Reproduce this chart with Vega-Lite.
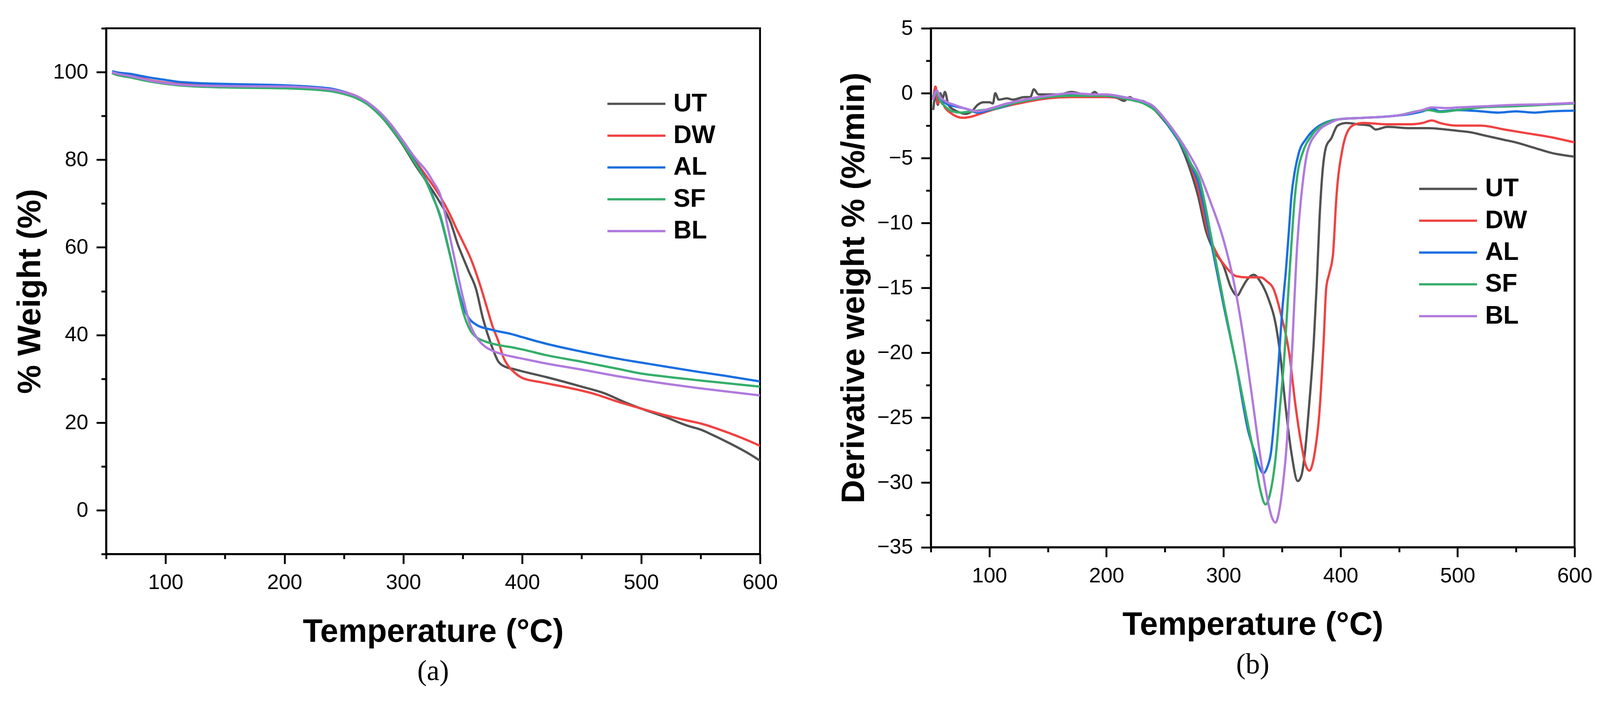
{
  "$schema": "https://vega.github.io/schema/vega-lite/v6.json",
  "background": "white",
  "padding": {"left": 32.7, "top": 42.4, "right": 0, "bottom": 0},
  "spacing": 149.3,
  "resolve": {"scale": {"color": "independent"}, "legend": {"color": "independent"}},
  "config": {
    "font": "Liberation Sans",
    "view": {"stroke": "black", "strokeWidth": 4.8},
    "axis": {
      "grid": false,
      "domainColor": "black",
      "domainWidth": 4.8,
      "tickColor": "black",
      "tickWidth": 4.8,
      "labelFont": "Liberation Sans",
      "labelFontSize": 54,
      "labelColor": "black",
      "labelPadding": 21.2,
      "labelFlush": false,
      "labelOverlap": false,
      "titleFont": "Liberation Sans",
      "titleFontSize": 83,
      "titleFontWeight": "bold",
      "titleColor": "black"
    },
    "legend": {
      "orient": "none",
      "symbolType": "stroke",
      "symbolSize": 22022,
      "symbolStrokeWidth": 5.8,
      "clipHeight": 64.5,
      "labelFont": "Liberation Sans",
      "labelFontSize": 64.5,
      "labelFontWeight": "bold",
      "labelColor": "black",
      "labelOffset": 17.3,
      "rowPadding": 15.4,
      "padding": 0
    },
    "title": {
      "orient": "bottom",
      "font": "Liberation Serif",
      "fontSize": 73,
      "fontWeight": "normal",
      "color": "black",
      "anchor": "middle",
      "offset": 24
    }
  },
  "datasets": {
    "tga": [
      {"sample": "UT", "temperature": 55, "weight": 99.8}, {"sample": "UT", "temperature": 60, "weight": 99.3}, {"sample": "UT", "temperature": 70, "weight": 99.0}, {"sample": "UT", "temperature": 80, "weight": 98.3}, {"sample": "UT", "temperature": 90, "weight": 97.8}, {"sample": "UT", "temperature": 100, "weight": 97.5}, {"sample": "UT", "temperature": 120, "weight": 97.1}, {"sample": "UT", "temperature": 150, "weight": 96.9}, {"sample": "UT", "temperature": 200, "weight": 96.7}, {"sample": "UT", "temperature": 230, "weight": 96.3}, {"sample": "UT", "temperature": 240, "weight": 96.0}, {"sample": "UT", "temperature": 250, "weight": 95.3}, {"sample": "UT", "temperature": 260, "weight": 94.4}, {"sample": "UT", "temperature": 270, "weight": 92.8}, {"sample": "UT", "temperature": 280, "weight": 90.3}, {"sample": "UT", "temperature": 290, "weight": 87.0}, {"sample": "UT", "temperature": 300, "weight": 83.2}, {"sample": "UT", "temperature": 310, "weight": 78.8}, {"sample": "UT", "temperature": 320, "weight": 74.8}, {"sample": "UT", "temperature": 330, "weight": 70.6}, {"sample": "UT", "temperature": 340, "weight": 65.5}, {"sample": "UT", "temperature": 346, "weight": 60.5}, {"sample": "UT", "temperature": 350, "weight": 57.8}, {"sample": "UT", "temperature": 355, "weight": 54.5}, {"sample": "UT", "temperature": 361, "weight": 50.6}, {"sample": "UT", "temperature": 367, "weight": 43.7}, {"sample": "UT", "temperature": 374, "weight": 37.7}, {"sample": "UT", "temperature": 380, "weight": 33.9}, {"sample": "UT", "temperature": 386, "weight": 32.7}, {"sample": "UT", "temperature": 393, "weight": 32.2}, {"sample": "UT", "temperature": 400, "weight": 31.7}, {"sample": "UT", "temperature": 420, "weight": 30.4}, {"sample": "UT", "temperature": 450, "weight": 28.2}, {"sample": "UT", "temperature": 470, "weight": 26.6}, {"sample": "UT", "temperature": 485, "weight": 24.8}, {"sample": "UT", "temperature": 500, "weight": 23.2}, {"sample": "UT", "temperature": 520, "weight": 21.3}, {"sample": "UT", "temperature": 540, "weight": 19.2}, {"sample": "UT", "temperature": 550, "weight": 18.4}, {"sample": "UT", "temperature": 560, "weight": 17.2}, {"sample": "UT", "temperature": 575, "weight": 15.2}, {"sample": "UT", "temperature": 590, "weight": 13.0}, {"sample": "UT", "temperature": 600, "weight": 11.3},
      {"sample": "DW", "temperature": 55, "weight": 100.0}, {"sample": "DW", "temperature": 60, "weight": 99.7}, {"sample": "DW", "temperature": 70, "weight": 99.1}, {"sample": "DW", "temperature": 80, "weight": 98.6}, {"sample": "DW", "temperature": 90, "weight": 98.0}, {"sample": "DW", "temperature": 100, "weight": 97.6}, {"sample": "DW", "temperature": 120, "weight": 97.1}, {"sample": "DW", "temperature": 150, "weight": 96.9}, {"sample": "DW", "temperature": 200, "weight": 96.8}, {"sample": "DW", "temperature": 230, "weight": 96.4}, {"sample": "DW", "temperature": 240, "weight": 96.1}, {"sample": "DW", "temperature": 250, "weight": 95.5}, {"sample": "DW", "temperature": 260, "weight": 94.6}, {"sample": "DW", "temperature": 270, "weight": 93.0}, {"sample": "DW", "temperature": 280, "weight": 90.6}, {"sample": "DW", "temperature": 290, "weight": 87.4}, {"sample": "DW", "temperature": 300, "weight": 83.8}, {"sample": "DW", "temperature": 310, "weight": 79.8}, {"sample": "DW", "temperature": 320, "weight": 76.0}, {"sample": "DW", "temperature": 331, "weight": 71.6}, {"sample": "DW", "temperature": 339, "weight": 67.6}, {"sample": "DW", "temperature": 346, "weight": 63.5}, {"sample": "DW", "temperature": 350, "weight": 61.3}, {"sample": "DW", "temperature": 357, "weight": 57.2}, {"sample": "DW", "temperature": 365, "weight": 51.0}, {"sample": "DW", "temperature": 370, "weight": 46.5}, {"sample": "DW", "temperature": 375, "weight": 42.0}, {"sample": "DW", "temperature": 380, "weight": 38.5}, {"sample": "DW", "temperature": 384, "weight": 35.0}, {"sample": "DW", "temperature": 388, "weight": 33.0}, {"sample": "DW", "temperature": 392, "weight": 31.8}, {"sample": "DW", "temperature": 400, "weight": 30.2}, {"sample": "DW", "temperature": 416, "weight": 29.2}, {"sample": "DW", "temperature": 440, "weight": 27.9}, {"sample": "DW", "temperature": 460, "weight": 26.6}, {"sample": "DW", "temperature": 480, "weight": 24.8}, {"sample": "DW", "temperature": 500, "weight": 23.2}, {"sample": "DW", "temperature": 520, "weight": 21.7}, {"sample": "DW", "temperature": 540, "weight": 20.4}, {"sample": "DW", "temperature": 550, "weight": 19.8}, {"sample": "DW", "temperature": 565, "weight": 18.5}, {"sample": "DW", "temperature": 580, "weight": 17.0}, {"sample": "DW", "temperature": 590, "weight": 15.9}, {"sample": "DW", "temperature": 600, "weight": 14.7},
      {"sample": "AL", "temperature": 55, "weight": 100.2}, {"sample": "AL", "temperature": 60, "weight": 99.9}, {"sample": "AL", "temperature": 70, "weight": 99.6}, {"sample": "AL", "temperature": 80, "weight": 99.1}, {"sample": "AL", "temperature": 90, "weight": 98.6}, {"sample": "AL", "temperature": 100, "weight": 98.2}, {"sample": "AL", "temperature": 110, "weight": 97.8}, {"sample": "AL", "temperature": 120, "weight": 97.6}, {"sample": "AL", "temperature": 150, "weight": 97.3}, {"sample": "AL", "temperature": 200, "weight": 97.0}, {"sample": "AL", "temperature": 230, "weight": 96.5}, {"sample": "AL", "temperature": 240, "weight": 96.2}, {"sample": "AL", "temperature": 250, "weight": 95.5}, {"sample": "AL", "temperature": 260, "weight": 94.5}, {"sample": "AL", "temperature": 270, "weight": 92.9}, {"sample": "AL", "temperature": 280, "weight": 90.5}, {"sample": "AL", "temperature": 290, "weight": 87.4}, {"sample": "AL", "temperature": 300, "weight": 83.6}, {"sample": "AL", "temperature": 310, "weight": 79.4}, {"sample": "AL", "temperature": 320, "weight": 74.8}, {"sample": "AL", "temperature": 325, "weight": 71.5}, {"sample": "AL", "temperature": 331, "weight": 67.0}, {"sample": "AL", "temperature": 339, "weight": 58.5}, {"sample": "AL", "temperature": 346, "weight": 50.5}, {"sample": "AL", "temperature": 350, "weight": 46.7}, {"sample": "AL", "temperature": 354, "weight": 44.3}, {"sample": "AL", "temperature": 361, "weight": 42.4}, {"sample": "AL", "temperature": 374, "weight": 41.2}, {"sample": "AL", "temperature": 391, "weight": 40.2}, {"sample": "AL", "temperature": 400, "weight": 39.5}, {"sample": "AL", "temperature": 420, "weight": 38.0}, {"sample": "AL", "temperature": 450, "weight": 36.2}, {"sample": "AL", "temperature": 480, "weight": 34.6}, {"sample": "AL", "temperature": 500, "weight": 33.7}, {"sample": "AL", "temperature": 520, "weight": 32.8}, {"sample": "AL", "temperature": 550, "weight": 31.5}, {"sample": "AL", "temperature": 570, "weight": 30.7}, {"sample": "AL", "temperature": 600, "weight": 29.4},
      {"sample": "SF", "temperature": 55, "weight": 99.8}, {"sample": "SF", "temperature": 60, "weight": 99.3}, {"sample": "SF", "temperature": 70, "weight": 98.8}, {"sample": "SF", "temperature": 80, "weight": 98.2}, {"sample": "SF", "temperature": 90, "weight": 97.7}, {"sample": "SF", "temperature": 100, "weight": 97.3}, {"sample": "SF", "temperature": 110, "weight": 97.0}, {"sample": "SF", "temperature": 120, "weight": 96.8}, {"sample": "SF", "temperature": 150, "weight": 96.5}, {"sample": "SF", "temperature": 200, "weight": 96.3}, {"sample": "SF", "temperature": 230, "weight": 95.9}, {"sample": "SF", "temperature": 240, "weight": 95.6}, {"sample": "SF", "temperature": 250, "weight": 95.0}, {"sample": "SF", "temperature": 260, "weight": 94.1}, {"sample": "SF", "temperature": 270, "weight": 92.6}, {"sample": "SF", "temperature": 280, "weight": 90.2}, {"sample": "SF", "temperature": 290, "weight": 87.1}, {"sample": "SF", "temperature": 300, "weight": 83.4}, {"sample": "SF", "temperature": 310, "weight": 79.2}, {"sample": "SF", "temperature": 320, "weight": 74.5}, {"sample": "SF", "temperature": 325, "weight": 71.3}, {"sample": "SF", "temperature": 331, "weight": 67.3}, {"sample": "SF", "temperature": 339, "weight": 58.6}, {"sample": "SF", "temperature": 346, "weight": 50.0}, {"sample": "SF", "temperature": 350, "weight": 45.5}, {"sample": "SF", "temperature": 356, "weight": 41.2}, {"sample": "SF", "temperature": 360, "weight": 39.8}, {"sample": "SF", "temperature": 368, "weight": 38.6}, {"sample": "SF", "temperature": 380, "weight": 37.7}, {"sample": "SF", "temperature": 391, "weight": 37.2}, {"sample": "SF", "temperature": 400, "weight": 36.7}, {"sample": "SF", "temperature": 420, "weight": 35.4}, {"sample": "SF", "temperature": 450, "weight": 33.9}, {"sample": "SF", "temperature": 480, "weight": 32.3}, {"sample": "SF", "temperature": 500, "weight": 31.2}, {"sample": "SF", "temperature": 520, "weight": 30.5}, {"sample": "SF", "temperature": 550, "weight": 29.6}, {"sample": "SF", "temperature": 575, "weight": 28.9}, {"sample": "SF", "temperature": 600, "weight": 28.2},
      {"sample": "BL", "temperature": 55, "weight": 100.0}, {"sample": "BL", "temperature": 60, "weight": 99.6}, {"sample": "BL", "temperature": 70, "weight": 99.1}, {"sample": "BL", "temperature": 80, "weight": 98.5}, {"sample": "BL", "temperature": 90, "weight": 97.9}, {"sample": "BL", "temperature": 100, "weight": 97.5}, {"sample": "BL", "temperature": 120, "weight": 97.0}, {"sample": "BL", "temperature": 150, "weight": 96.8}, {"sample": "BL", "temperature": 200, "weight": 96.7}, {"sample": "BL", "temperature": 230, "weight": 96.3}, {"sample": "BL", "temperature": 240, "weight": 96.0}, {"sample": "BL", "temperature": 250, "weight": 95.4}, {"sample": "BL", "temperature": 260, "weight": 94.6}, {"sample": "BL", "temperature": 270, "weight": 93.1}, {"sample": "BL", "temperature": 280, "weight": 90.9}, {"sample": "BL", "temperature": 290, "weight": 87.9}, {"sample": "BL", "temperature": 300, "weight": 84.2}, {"sample": "BL", "temperature": 310, "weight": 80.4}, {"sample": "BL", "temperature": 320, "weight": 77.2}, {"sample": "BL", "temperature": 325, "weight": 75.0}, {"sample": "BL", "temperature": 331, "weight": 72.0}, {"sample": "BL", "temperature": 339, "weight": 62.6}, {"sample": "BL", "temperature": 346, "weight": 53.6}, {"sample": "BL", "temperature": 350, "weight": 48.7}, {"sample": "BL", "temperature": 356, "weight": 42.5}, {"sample": "BL", "temperature": 361, "weight": 39.7}, {"sample": "BL", "temperature": 369, "weight": 37.3}, {"sample": "BL", "temperature": 375, "weight": 36.4}, {"sample": "BL", "temperature": 382, "weight": 35.7}, {"sample": "BL", "temperature": 391, "weight": 35.1}, {"sample": "BL", "temperature": 400, "weight": 34.6}, {"sample": "BL", "temperature": 420, "weight": 33.5}, {"sample": "BL", "temperature": 450, "weight": 32.1}, {"sample": "BL", "temperature": 480, "weight": 30.6}, {"sample": "BL", "temperature": 500, "weight": 29.7}, {"sample": "BL", "temperature": 520, "weight": 28.9}, {"sample": "BL", "temperature": 550, "weight": 27.8}, {"sample": "BL", "temperature": 575, "weight": 27.0}, {"sample": "BL", "temperature": 600, "weight": 26.2}
    ],
    "dtg": [
      {"sample": "UT", "temperature": 52, "rate": -1.3}, {"sample": "UT", "temperature": 54, "rate": -0.2}, {"sample": "UT", "temperature": 56, "rate": -0.9}, {"sample": "UT", "temperature": 58, "rate": 0.0}, {"sample": "UT", "temperature": 60, "rate": -0.4}, {"sample": "UT", "temperature": 62, "rate": 0.1}, {"sample": "UT", "temperature": 65, "rate": -0.9}, {"sample": "UT", "temperature": 70, "rate": -1.3}, {"sample": "UT", "temperature": 75, "rate": -1.5}, {"sample": "UT", "temperature": 80, "rate": -1.6}, {"sample": "UT", "temperature": 85, "rate": -1.4}, {"sample": "UT", "temperature": 90, "rate": -0.9}, {"sample": "UT", "temperature": 95, "rate": -0.7}, {"sample": "UT", "temperature": 100, "rate": -0.7}, {"sample": "UT", "temperature": 103, "rate": -0.8}, {"sample": "UT", "temperature": 105, "rate": 0.0}, {"sample": "UT", "temperature": 108, "rate": -0.5}, {"sample": "UT", "temperature": 115, "rate": -0.4}, {"sample": "UT", "temperature": 120, "rate": -0.5}, {"sample": "UT", "temperature": 130, "rate": -0.3}, {"sample": "UT", "temperature": 135, "rate": -0.3}, {"sample": "UT", "temperature": 138, "rate": 0.3}, {"sample": "UT", "temperature": 142, "rate": -0.1}, {"sample": "UT", "temperature": 150, "rate": -0.1}, {"sample": "UT", "temperature": 160, "rate": -0.1}, {"sample": "UT", "temperature": 170, "rate": 0.1}, {"sample": "UT", "temperature": 180, "rate": -0.1}, {"sample": "UT", "temperature": 185, "rate": -0.2}, {"sample": "UT", "temperature": 190, "rate": 0.1}, {"sample": "UT", "temperature": 195, "rate": -0.3}, {"sample": "UT", "temperature": 200, "rate": -0.2}, {"sample": "UT", "temperature": 210, "rate": -0.4}, {"sample": "UT", "temperature": 215, "rate": -0.6}, {"sample": "UT", "temperature": 220, "rate": -0.3}, {"sample": "UT", "temperature": 225, "rate": -0.6}, {"sample": "UT", "temperature": 230, "rate": -0.6}, {"sample": "UT", "temperature": 240, "rate": -1.2}, {"sample": "UT", "temperature": 250, "rate": -2.2}, {"sample": "UT", "temperature": 260, "rate": -3.4}, {"sample": "UT", "temperature": 270, "rate": -5.5}, {"sample": "UT", "temperature": 278.5, "rate": -8.0}, {"sample": "UT", "temperature": 285, "rate": -10.6}, {"sample": "UT", "temperature": 291, "rate": -12.0}, {"sample": "UT", "temperature": 300, "rate": -13.3}, {"sample": "UT", "temperature": 306.5, "rate": -15.0}, {"sample": "UT", "temperature": 311.7, "rate": -15.6}, {"sample": "UT", "temperature": 316, "rate": -15.0}, {"sample": "UT", "temperature": 320, "rate": -14.4}, {"sample": "UT", "temperature": 325.8, "rate": -14.0}, {"sample": "UT", "temperature": 332, "rate": -14.6}, {"sample": "UT", "temperature": 338.6, "rate": -15.9}, {"sample": "UT", "temperature": 345, "rate": -18.0}, {"sample": "UT", "temperature": 348.3, "rate": -20.0}, {"sample": "UT", "temperature": 352.5, "rate": -23.7}, {"sample": "UT", "temperature": 358, "rate": -27.7}, {"sample": "UT", "temperature": 363.5, "rate": -29.9}, {"sample": "UT", "temperature": 366.5, "rate": -29.5}, {"sample": "UT", "temperature": 369.6, "rate": -27.7}, {"sample": "UT", "temperature": 372.7, "rate": -24.6}, {"sample": "UT", "temperature": 377.2, "rate": -19.1}, {"sample": "UT", "temperature": 379.8, "rate": -14.5}, {"sample": "UT", "temperature": 382, "rate": -9.8}, {"sample": "UT", "temperature": 384.6, "rate": -6.1}, {"sample": "UT", "temperature": 387.8, "rate": -4.1}, {"sample": "UT", "temperature": 392, "rate": -3.5}, {"sample": "UT", "temperature": 397.5, "rate": -2.5}, {"sample": "UT", "temperature": 405, "rate": -2.3}, {"sample": "UT", "temperature": 415, "rate": -2.4}, {"sample": "UT", "temperature": 425, "rate": -2.5}, {"sample": "UT", "temperature": 430, "rate": -2.8}, {"sample": "UT", "temperature": 440, "rate": -2.6}, {"sample": "UT", "temperature": 460, "rate": -2.7}, {"sample": "UT", "temperature": 475, "rate": -2.7}, {"sample": "UT", "temperature": 490, "rate": -2.8}, {"sample": "UT", "temperature": 500, "rate": -2.9}, {"sample": "UT", "temperature": 510, "rate": -3.0}, {"sample": "UT", "temperature": 525, "rate": -3.3}, {"sample": "UT", "temperature": 540, "rate": -3.6}, {"sample": "UT", "temperature": 550, "rate": -3.8}, {"sample": "UT", "temperature": 565, "rate": -4.2}, {"sample": "UT", "temperature": 580, "rate": -4.6}, {"sample": "UT", "temperature": 600, "rate": -4.9},
      {"sample": "DW", "temperature": 52, "rate": -0.5}, {"sample": "DW", "temperature": 54, "rate": 0.5}, {"sample": "DW", "temperature": 56, "rate": -0.8}, {"sample": "DW", "temperature": 58, "rate": -0.4}, {"sample": "DW", "temperature": 62, "rate": -1.1}, {"sample": "DW", "temperature": 68, "rate": -1.6}, {"sample": "DW", "temperature": 77, "rate": -1.9}, {"sample": "DW", "temperature": 85, "rate": -1.8}, {"sample": "DW", "temperature": 95, "rate": -1.5}, {"sample": "DW", "temperature": 110, "rate": -1.1}, {"sample": "DW", "temperature": 130, "rate": -0.7}, {"sample": "DW", "temperature": 150, "rate": -0.4}, {"sample": "DW", "temperature": 170, "rate": -0.3}, {"sample": "DW", "temperature": 200, "rate": -0.3}, {"sample": "DW", "temperature": 220, "rate": -0.5}, {"sample": "DW", "temperature": 235, "rate": -0.8}, {"sample": "DW", "temperature": 245, "rate": -1.5}, {"sample": "DW", "temperature": 255, "rate": -2.7}, {"sample": "DW", "temperature": 265, "rate": -4.0}, {"sample": "DW", "temperature": 272, "rate": -5.6}, {"sample": "DW", "temperature": 278.5, "rate": -7.4}, {"sample": "DW", "temperature": 287, "rate": -10.8}, {"sample": "DW", "temperature": 294.6, "rate": -12.4}, {"sample": "DW", "temperature": 303, "rate": -13.5}, {"sample": "DW", "temperature": 310.7, "rate": -14.1}, {"sample": "DW", "temperature": 320, "rate": -14.2}, {"sample": "DW", "temperature": 332, "rate": -14.2}, {"sample": "DW", "temperature": 337, "rate": -14.5}, {"sample": "DW", "temperature": 342.8, "rate": -15.1}, {"sample": "DW", "temperature": 349, "rate": -17.0}, {"sample": "DW", "temperature": 356.7, "rate": -20.4}, {"sample": "DW", "temperature": 361, "rate": -23.7}, {"sample": "DW", "temperature": 366, "rate": -26.8}, {"sample": "DW", "temperature": 370, "rate": -28.6}, {"sample": "DW", "temperature": 373.5, "rate": -29.1}, {"sample": "DW", "temperature": 376, "rate": -28.6}, {"sample": "DW", "temperature": 378, "rate": -27.7}, {"sample": "DW", "temperature": 382, "rate": -24.6}, {"sample": "DW", "temperature": 385.6, "rate": -19.1}, {"sample": "DW", "temperature": 387.8, "rate": -15.0}, {"sample": "DW", "temperature": 390.4, "rate": -13.9}, {"sample": "DW", "temperature": 393.6, "rate": -12.4}, {"sample": "DW", "temperature": 396.5, "rate": -8.0}, {"sample": "DW", "temperature": 401.7, "rate": -4.3}, {"sample": "DW", "temperature": 407, "rate": -2.8}, {"sample": "DW", "temperature": 412.6, "rate": -2.4}, {"sample": "DW", "temperature": 420, "rate": -2.3}, {"sample": "DW", "temperature": 440, "rate": -2.4}, {"sample": "DW", "temperature": 460, "rate": -2.4}, {"sample": "DW", "temperature": 470, "rate": -2.3}, {"sample": "DW", "temperature": 478, "rate": -2.1}, {"sample": "DW", "temperature": 485, "rate": -2.3}, {"sample": "DW", "temperature": 500, "rate": -2.5}, {"sample": "DW", "temperature": 520, "rate": -2.5}, {"sample": "DW", "temperature": 540, "rate": -2.8}, {"sample": "DW", "temperature": 560, "rate": -3.1}, {"sample": "DW", "temperature": 580, "rate": -3.4}, {"sample": "DW", "temperature": 600, "rate": -3.8},
      {"sample": "AL", "temperature": 52, "rate": -0.3}, {"sample": "AL", "temperature": 55, "rate": 0.2}, {"sample": "AL", "temperature": 57, "rate": -0.5}, {"sample": "AL", "temperature": 60, "rate": -0.6}, {"sample": "AL", "temperature": 65, "rate": -0.9}, {"sample": "AL", "temperature": 70, "rate": -1.0}, {"sample": "AL", "temperature": 80, "rate": -1.2}, {"sample": "AL", "temperature": 90, "rate": -1.5}, {"sample": "AL", "temperature": 100, "rate": -1.3}, {"sample": "AL", "temperature": 110, "rate": -1.1}, {"sample": "AL", "temperature": 120, "rate": -0.8}, {"sample": "AL", "temperature": 135, "rate": -0.5}, {"sample": "AL", "temperature": 150, "rate": -0.3}, {"sample": "AL", "temperature": 170, "rate": -0.1}, {"sample": "AL", "temperature": 200, "rate": -0.2}, {"sample": "AL", "temperature": 215, "rate": -0.4}, {"sample": "AL", "temperature": 225, "rate": -0.6}, {"sample": "AL", "temperature": 235, "rate": -0.8}, {"sample": "AL", "temperature": 245, "rate": -1.6}, {"sample": "AL", "temperature": 255, "rate": -2.8}, {"sample": "AL", "temperature": 265, "rate": -4.2}, {"sample": "AL", "temperature": 272, "rate": -5.5}, {"sample": "AL", "temperature": 278.5, "rate": -6.9}, {"sample": "AL", "temperature": 289, "rate": -11.3}, {"sample": "AL", "temperature": 300, "rate": -16.3}, {"sample": "AL", "temperature": 310.7, "rate": -20.9}, {"sample": "AL", "temperature": 321.3, "rate": -26.1}, {"sample": "AL", "temperature": 326.7, "rate": -27.7}, {"sample": "AL", "temperature": 331, "rate": -28.9}, {"sample": "AL", "temperature": 334, "rate": -29.3}, {"sample": "AL", "temperature": 337.5, "rate": -28.8}, {"sample": "AL", "temperature": 340.6, "rate": -27.7}, {"sample": "AL", "temperature": 344, "rate": -24.5}, {"sample": "AL", "temperature": 347, "rate": -20.9}, {"sample": "AL", "temperature": 350, "rate": -17.0}, {"sample": "AL", "temperature": 353.5, "rate": -13.5}, {"sample": "AL", "temperature": 356, "rate": -10.5}, {"sample": "AL", "temperature": 358, "rate": -8.0}, {"sample": "AL", "temperature": 361, "rate": -6.0}, {"sample": "AL", "temperature": 364.4, "rate": -4.6}, {"sample": "AL", "temperature": 370.8, "rate": -3.5}, {"sample": "AL", "temperature": 380.4, "rate": -2.6}, {"sample": "AL", "temperature": 388.8, "rate": -2.2}, {"sample": "AL", "temperature": 400, "rate": -2.0}, {"sample": "AL", "temperature": 420, "rate": -1.9}, {"sample": "AL", "temperature": 440, "rate": -1.8}, {"sample": "AL", "temperature": 460, "rate": -1.6}, {"sample": "AL", "temperature": 470, "rate": -1.4}, {"sample": "AL", "temperature": 478, "rate": -1.2}, {"sample": "AL", "temperature": 485, "rate": -1.4}, {"sample": "AL", "temperature": 500, "rate": -1.3}, {"sample": "AL", "temperature": 520, "rate": -1.4}, {"sample": "AL", "temperature": 535, "rate": -1.5}, {"sample": "AL", "temperature": 550, "rate": -1.4}, {"sample": "AL", "temperature": 565, "rate": -1.5}, {"sample": "AL", "temperature": 580, "rate": -1.4}, {"sample": "AL", "temperature": 600, "rate": -1.35},
      {"sample": "SF", "temperature": 52, "rate": -0.2}, {"sample": "SF", "temperature": 55, "rate": 0.0}, {"sample": "SF", "temperature": 58, "rate": -0.6}, {"sample": "SF", "temperature": 62, "rate": -1.0}, {"sample": "SF", "temperature": 68, "rate": -1.4}, {"sample": "SF", "temperature": 75, "rate": -1.5}, {"sample": "SF", "temperature": 85, "rate": -1.4}, {"sample": "SF", "temperature": 95, "rate": -1.3}, {"sample": "SF", "temperature": 105, "rate": -1.2}, {"sample": "SF", "temperature": 115, "rate": -0.9}, {"sample": "SF", "temperature": 130, "rate": -0.6}, {"sample": "SF", "temperature": 150, "rate": -0.3}, {"sample": "SF", "temperature": 170, "rate": -0.2}, {"sample": "SF", "temperature": 200, "rate": -0.2}, {"sample": "SF", "temperature": 220, "rate": -0.5}, {"sample": "SF", "temperature": 232, "rate": -0.8}, {"sample": "SF", "temperature": 245, "rate": -1.6}, {"sample": "SF", "temperature": 255, "rate": -2.7}, {"sample": "SF", "temperature": 265, "rate": -4.1}, {"sample": "SF", "temperature": 272, "rate": -5.4}, {"sample": "SF", "temperature": 279.5, "rate": -6.7}, {"sample": "SF", "temperature": 290.4, "rate": -11.5}, {"sample": "SF", "temperature": 301, "rate": -16.5}, {"sample": "SF", "temperature": 311.7, "rate": -21.3}, {"sample": "SF", "temperature": 321.3, "rate": -25.7}, {"sample": "SF", "temperature": 325.8, "rate": -27.7}, {"sample": "SF", "temperature": 331, "rate": -30.4}, {"sample": "SF", "temperature": 336, "rate": -31.7}, {"sample": "SF", "temperature": 340, "rate": -30.8}, {"sample": "SF", "temperature": 345, "rate": -27.7}, {"sample": "SF", "temperature": 348, "rate": -24.5}, {"sample": "SF", "temperature": 351.5, "rate": -20.9}, {"sample": "SF", "temperature": 356.7, "rate": -13.5}, {"sample": "SF", "temperature": 361, "rate": -8.0}, {"sample": "SF", "temperature": 364, "rate": -5.8}, {"sample": "SF", "temperature": 367.6, "rate": -4.6}, {"sample": "SF", "temperature": 375, "rate": -3.3}, {"sample": "SF", "temperature": 385.6, "rate": -2.4}, {"sample": "SF", "temperature": 400, "rate": -2.0}, {"sample": "SF", "temperature": 420, "rate": -1.9}, {"sample": "SF", "temperature": 450, "rate": -1.7}, {"sample": "SF", "temperature": 465, "rate": -1.4}, {"sample": "SF", "temperature": 475, "rate": -1.3}, {"sample": "SF", "temperature": 485, "rate": -1.45}, {"sample": "SF", "temperature": 500, "rate": -1.3}, {"sample": "SF", "temperature": 520, "rate": -1.1}, {"sample": "SF", "temperature": 550, "rate": -1.0}, {"sample": "SF", "temperature": 575, "rate": -0.9}, {"sample": "SF", "temperature": 600, "rate": -0.8},
      {"sample": "BL", "temperature": 52, "rate": -0.5}, {"sample": "BL", "temperature": 55, "rate": 0.2}, {"sample": "BL", "temperature": 58, "rate": -0.3}, {"sample": "BL", "temperature": 62, "rate": -0.6}, {"sample": "BL", "temperature": 70, "rate": -0.9}, {"sample": "BL", "temperature": 80, "rate": -1.2}, {"sample": "BL", "temperature": 90, "rate": -1.4}, {"sample": "BL", "temperature": 100, "rate": -1.2}, {"sample": "BL", "temperature": 115, "rate": -0.8}, {"sample": "BL", "temperature": 130, "rate": -0.5}, {"sample": "BL", "temperature": 150, "rate": -0.2}, {"sample": "BL", "temperature": 170, "rate": 0.0}, {"sample": "BL", "temperature": 190, "rate": -0.1}, {"sample": "BL", "temperature": 200, "rate": -0.1}, {"sample": "BL", "temperature": 215, "rate": -0.3}, {"sample": "BL", "temperature": 230, "rate": -0.6}, {"sample": "BL", "temperature": 240, "rate": -1.0}, {"sample": "BL", "temperature": 250, "rate": -2.0}, {"sample": "BL", "temperature": 260, "rate": -3.2}, {"sample": "BL", "temperature": 270, "rate": -4.6}, {"sample": "BL", "temperature": 278.5, "rate": -6.0}, {"sample": "BL", "temperature": 289, "rate": -8.4}, {"sample": "BL", "temperature": 300, "rate": -11.3}, {"sample": "BL", "temperature": 308.5, "rate": -14.4}, {"sample": "BL", "temperature": 316, "rate": -18.2}, {"sample": "BL", "temperature": 323.5, "rate": -22.8}, {"sample": "BL", "temperature": 331, "rate": -27.7}, {"sample": "BL", "temperature": 337, "rate": -31.0}, {"sample": "BL", "temperature": 341, "rate": -32.6}, {"sample": "BL", "temperature": 344.5, "rate": -33.1}, {"sample": "BL", "temperature": 348, "rate": -32.0}, {"sample": "BL", "temperature": 351, "rate": -30.0}, {"sample": "BL", "temperature": 353.5, "rate": -27.7}, {"sample": "BL", "temperature": 358, "rate": -20.9}, {"sample": "BL", "temperature": 363, "rate": -11.7}, {"sample": "BL", "temperature": 367.6, "rate": -7.0}, {"sample": "BL", "temperature": 371.8, "rate": -4.5}, {"sample": "BL", "temperature": 380.4, "rate": -3.0}, {"sample": "BL", "temperature": 391, "rate": -2.3}, {"sample": "BL", "temperature": 400, "rate": -2.0}, {"sample": "BL", "temperature": 420, "rate": -1.9}, {"sample": "BL", "temperature": 450, "rate": -1.7}, {"sample": "BL", "temperature": 470, "rate": -1.3}, {"sample": "BL", "temperature": 478, "rate": -1.1}, {"sample": "BL", "temperature": 490, "rate": -1.15}, {"sample": "BL", "temperature": 500, "rate": -1.1}, {"sample": "BL", "temperature": 525, "rate": -1.0}, {"sample": "BL", "temperature": 550, "rate": -0.9}, {"sample": "BL", "temperature": 575, "rate": -0.85}, {"sample": "BL", "temperature": 600, "rate": -0.75}
    ]
  },
  "hconcat": [
    {
      "title": {"text": "(a)"},
      "width": 1674,
      "height": 1345,
      "data": {"name": "tga"},
      "mark": {"type": "line", "strokeWidth": 5.8, "interpolate": "monotone", "clip": true},
      "encoding": {
        "x": {
          "field": "temperature",
          "type": "quantitative",
          "scale": {"domain": [50, 600], "nice": false, "zero": false},
          "axis": {
            "title": "Temperature (°C)",
            "titlePadding": 57.8,
            "format": "d",
            "values": [50, 100, 150, 200, 250, 300, 350, 400, 450, 500, 550, 600],
            "labelExpr": "datum.value % 100 === 0 ? datum.label : ''",
            "tickSize": {"condition": {"test": "datum.value % 100 === 0", "value": 25}, "value": 12.5}
          }
        },
        "y": {
          "field": "weight",
          "type": "quantitative",
          "scale": {"domain": [-10, 110], "nice": false, "zero": false},
          "axis": {
            "title": "% Weight (%)",
            "titlePadding": 16.4,
            "format": "d",
            "values": [-10, 0, 10, 20, 30, 40, 50, 60, 70, 80, 90, 100, 110],
            "labelExpr": "datum.value % 20 === 0 ? datum.label : ''",
            "labelFontSize": {"condition": {"test": "datum.value % 20 === 0", "value": 54}, "value": 15.4},
            "tickSize": {"condition": {"test": "datum.value % 20 === 0", "value": 25}, "value": 12.5}
          }
        },
        "color": {
          "field": "sample",
          "type": "nominal",
          "sort": null,
          "scale": {"domain": ["UT", "DW", "AL", "SF", "BL"], "range": ["#525252", "#f04242", "#1a6fe0", "#35ae6b", "#b07ade"]},
          "legend": {"title": null, "legendX": 1280, "legendY": 161}
        }
      }
    },
    {
      "title": {"text": "(b)"},
      "width": 1648,
      "height": 1327.6,
      "data": {"name": "dtg"},
      "mark": {"type": "line", "strokeWidth": 5.8, "interpolate": "monotone", "clip": true},
      "encoding": {
        "x": {
          "field": "temperature",
          "type": "quantitative",
          "scale": {"domain": [50, 600], "nice": false, "zero": false},
          "axis": {
            "title": "Temperature (°C)",
            "titlePadding": 57.8,
            "format": "d",
            "values": [50, 100, 150, 200, 250, 300, 350, 400, 450, 500, 550, 600],
            "labelExpr": "datum.value % 100 === 0 ? datum.label : ''",
            "tickSize": {"condition": {"test": "datum.value % 100 === 0", "value": 25}, "value": 12.5}
          }
        },
        "y": {
          "field": "rate",
          "type": "quantitative",
          "scale": {"domain": [-35, 5], "nice": false, "zero": false},
          "axis": {
            "title": "Derivative weight % (%/min)",
            "titlePadding": 16.4,
            "format": "d",
            "values": [-35, -32.5, -30, -27.5, -25, -22.5, -20, -17.5, -15, -12.5, -10, -7.5, -5, -2.5, 0, 2.5, 5],
            "labelExpr": "datum.value % 5 === 0 ? datum.label : ''",
            "tickSize": {"condition": {"test": "datum.value % 5 === 0", "value": 25}, "value": 12.5}
          }
        },
        "color": {
          "field": "sample",
          "type": "nominal",
          "sort": null,
          "scale": {"domain": ["UT", "DW", "AL", "SF", "BL"], "range": ["#525252", "#f04242", "#1a6fe0", "#35ae6b", "#b07ade"]},
          "legend": {"title": null, "legendX": 1246.6, "legendY": 378.6}
        }
      }
    }
  ]
}
